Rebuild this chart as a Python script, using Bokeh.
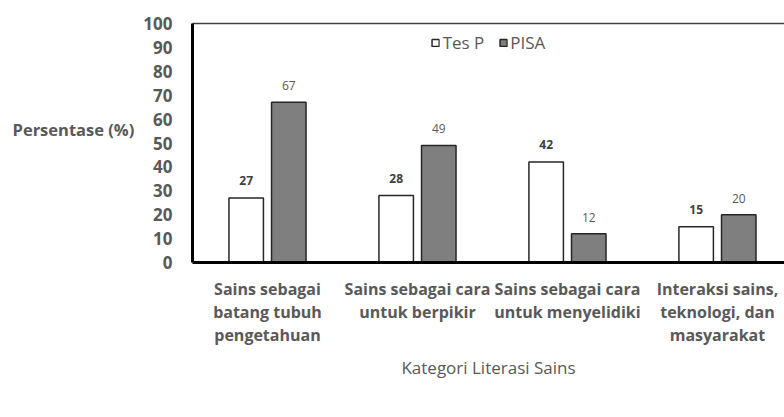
import numpy as np
from bokeh.plotting import figure
from bokeh.models import (ColumnDataSource, Range1d, FixedTicker, LabelSet,
                          Legend, LegendItem, LinearAxis)
from bokeh.core.properties import value
from bokeh.embed import file_html
from bokeh.resources import INLINE

# ---- data ----
categories = [
    "Sains sebagai\nbatang tubuh\npengetahuan",
    "Sains sebagai cara\nuntuk berpikir",
    "Sains sebagai cara\nuntuk menyelidiki",
    "Interaksi sains,\nteknologi, dan\nmasyarakat",
]
series_names = ["Tes P", "PISA"]
tes_p = [27, 28, 42, 15]
pisa = [67, 49, 12, 20]
y_ticks = [0, 10, 20, 30, 40, 50, 60, 70, 80, 90, 100]

FONT = "Open Sans"
GRAY = "#595959"

idx = np.arange(len(categories)) + 0.5
off = 0.142
bw = 0.23

src_t = ColumnDataSource(dict(x=idx - off, y=tes_p, lab=[str(v) for v in tes_p]))
src_p = ColumnDataSource(dict(x=idx + off, y=pisa, lab=[str(v) for v in pisa]))

p = figure(frame_width=592, frame_height=239, output_backend="svg", toolbar_location=None,
           x_range=Range1d(0, len(categories) - 0.053), y_range=Range1d(0, 100),
           min_border_left=192, min_border_top=23, min_border_right=0,
           min_border_bottom=0)
p.outline_line_color = None
p.grid.visible = False
p.background_fill_color = "white"
p.border_fill_color = "white"

r_t = p.vbar(x="x", top="y", width=bw, source=src_t, fill_color="white",
             line_color="#262626", line_width=1.5)
r_p = p.vbar(x="x", top="y", width=bw, source=src_p, fill_color="#7f7f7f",
             line_color="#262626", line_width=1.5)

lt = LabelSet(x="x", y="y", text="lab", source=src_t, y_offset=13,
              text_align="center", text_baseline="bottom", text_font=value(FONT),
              text_font_size="12px", text_font_style="bold", text_color="#404040")
lp = LabelSet(x="x", y="y", text="lab", source=src_p, y_offset=12,
              text_align="center", text_baseline="bottom", text_font=value(FONT),
              text_font_size="12px", text_color=GRAY)
p.add_layout(lt)
p.add_layout(lp)

# x axis
xa = p.xaxis[0]
xa.ticker = FixedTicker(ticks=list(idx))
xa.major_label_overrides = {float(k): c for k, c in zip(idx, categories)}
xa.axis_line_width = 3
xa.axis_line_color = "black"
xa.major_tick_line_color = None
xa.minor_tick_line_color = None
xa.major_label_standoff = 9
xa.major_label_text_font = FONT
xa.major_label_text_font_size = "16px"
xa.major_label_text_font_style = "bold"
xa.major_label_text_color = GRAY
xa.major_label_text_line_height = 1.05
xa.axis_label = "Kategori Literasi Sains"
xa.axis_label_text_font = FONT
xa.axis_label_text_font_size = "17px"
xa.axis_label_text_font_style = "normal"
xa.axis_label_text_color = GRAY
xa.axis_label_standoff = 7

# y axis
ya = p.yaxis[0]
ya.ticker = FixedTicker(ticks=y_ticks)
ya.axis_line_width = 3
ya.axis_line_color = "black"
ya.major_tick_line_color = None
ya.minor_tick_line_color = None
ya.major_label_standoff = 14
ya.major_label_text_font = FONT
ya.major_label_text_font_size = "17px"
ya.major_label_text_font_style = "bold"
ya.major_label_text_color = GRAY
ya.axis_label = "Persentase (%)\n"
ya.axis_label_orientation = "horizontal"
ya.axis_label_text_font = FONT
ya.axis_label_text_font_size = "16.5px"
ya.axis_label_text_font_style = "bold"
ya.axis_label_text_color = GRAY
ya.axis_label_standoff = 6

# top border line
top = LinearAxis(major_tick_line_color=None, minor_tick_line_color=None,
                 major_label_text_font_size="0px", axis_line_color="#404040",
                 axis_line_width=1.5, ticker=FixedTicker(ticks=[]))
p.add_layout(top, "above")

legend = Legend(items=[LegendItem(label=series_names[0], renderers=[r_t]),
                       LegendItem(label=series_names[1], renderers=[r_p])],
                orientation="horizontal", location="top_center",
                border_line_color=None, background_fill_alpha=0,
                label_text_font=FONT, label_text_font_size="17px",
                label_text_color=GRAY, glyph_width=9, glyph_height=9,
                label_standoff=3, spacing=14, padding=0, margin=8,
                label_height=18)
p.add_layout(legend, "center")

open("out.html", "w").write(file_html(p, INLINE))
